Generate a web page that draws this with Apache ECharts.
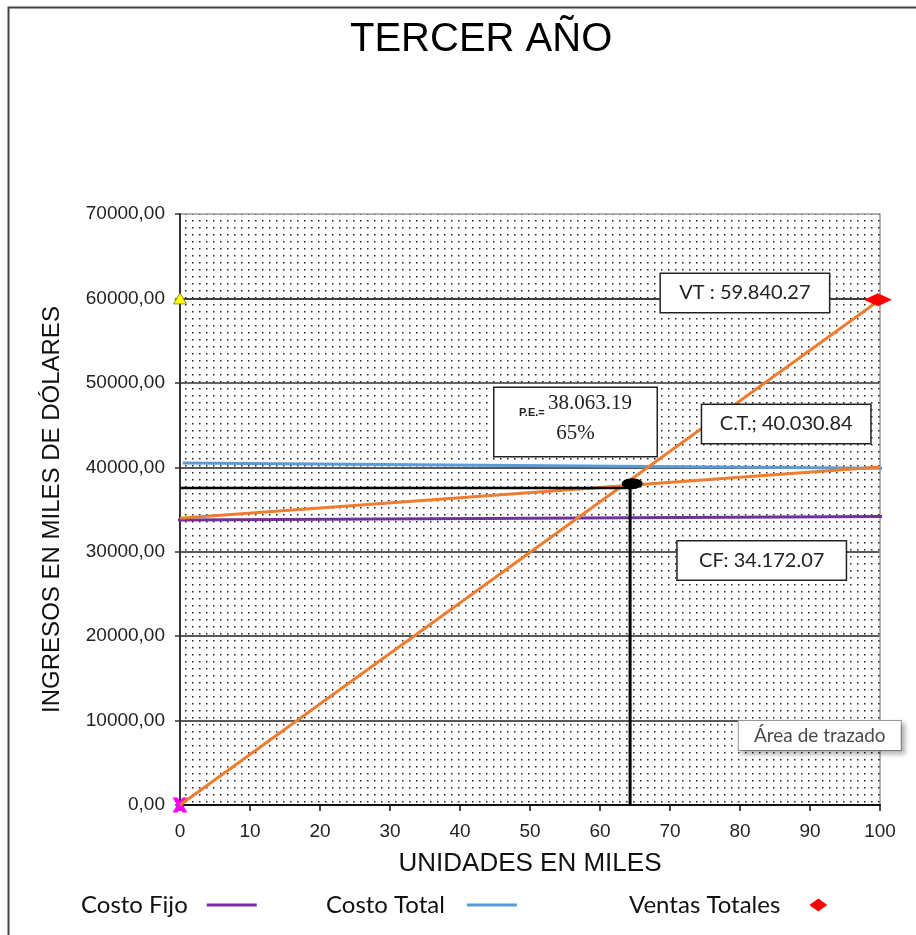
<!DOCTYPE html>
<html>
<head>
<meta charset="utf-8">
<script src="https://cdn.jsdelivr.net/npm/echarts@6/dist/echarts.min.js"></script>
<style>
  html, body { margin: 0; padding: 0; background: #fff; }
  #chart { width: 916px; height: 935px; }
</style>
</head>
<body>
<div id="chart"></div>
<script>
// Break-even chart, third year (values in thousands of dollars / units)
const xTickValues = [0, 10, 20, 30, 40, 50, 60, 70, 80, 90, 100];
const yTickValues = [0, 10000, 20000, 30000, 40000, 50000, 60000, 70000];

const costoFijo = [[-1.4, 33760], [103.2, 34172.07]];
const costoTotal = [[0.4, 40500], [102.3, 39880]];
const costoTotalRecta = [[0, 33950], [100, 40030.84]];
const ventasRecta = [[0, 0], [100, 59840.27]];
const ventasTotales = [[99.7, 59840.27]];
const puntoEquilibrio = [[64.6, 38063.19]];
const guiaHorizontal = [[0, 37550], [64.3, 37550]];
const guiaVertical = [[64.3, 0], [64.3, 38000]];
const marcaCero = [[0, 0]];
const marcaSesenta = [[0, 60000]];

// annotation boxes: [x, y, text]
const etiquetas = [
  [80.7, 60640, 'VT : 59.840.27'],
  [86.6, 45130, 'C.T.; 40.030.84'],
  [83.1, 28960, 'CF: 34.172.07']
];
const etiquetaPE = [56.5, 45360];
const peValor = '38.063.19';
const pePorcentaje = '65%';
const ayudaArea = [91.4, 8230, 'Área de trazado'];

// dotted fill for the plotting area
function dotPattern() {
  const c = document.createElement('canvas');
  c.width = 7; c.height = 7;
  const g = c.getContext('2d');
  g.fillStyle = '#222';
  g.fillRect(3, 3, 1.5, 1.5);
  return c;
}

const SANS = '"Liberation Sans", Arial, sans-serif';
const CAL = 'Lato, "Open Sans", sans-serif';
const SERIF = '"Liberation Serif", "Times New Roman", serif';
const ORANGE = '#ED7D31';

const chart = echarts.init(document.getElementById('chart'), null, { renderer: 'canvas' });

const lineSeries = (name, data, color, width, extra) => Object.assign({
  name, type: 'line', data, symbol: 'none', clip: false,
  lineStyle: { color, width }, itemStyle: { color }, z: 3, silent: true
}, extra || {});

const boxLabel = {
  show: true, position: 'inside', formatter: p => p.name,
  fontFamily: CAL, fontSize: 20, color: '#222',
  backgroundColor: '#fff', borderColor: '#222', borderWidth: 1.5,
  width: 168, height: 38, align: 'center', verticalAlign: 'middle', lineHeight: 38
};

const option = {
  backgroundColor: '#fff',
  animation: false,
  title: {
    text: 'TERCER AÑO', left: 345, top: 15,
    textStyle: { fontFamily: SANS, fontSize: 40, fontWeight: 'normal', color: '#000' }
  },
  graphic: [{
    type: 'rect', left: 6, top: 5, silent: true,
    shape: { width: 940, height: 960 },
    style: { fill: 'none', stroke: '#444', lineWidth: 2 }
  }],
  legend: [
    { data: ['Costo Fijo'], left: 76, top: 888, align: 'right', icon: 'rect', itemWidth: 50, itemHeight: 3,
      textStyle: { fontFamily: CAL, fontSize: 24, color: '#111', padding: [0, 14, 0, 0] }, selectedMode: false },
    { data: ['Costo Total'], left: 321, top: 888, align: 'right', icon: 'rect', itemWidth: 50, itemHeight: 3,
      textStyle: { fontFamily: CAL, fontSize: 24, color: '#111', padding: [0, 17, 0, 0] }, selectedMode: false },
    { data: ['Ventas Totales'], left: 624, top: 888, align: 'right', icon: 'diamond', itemWidth: 18, itemHeight: 13,
      textStyle: { fontFamily: CAL, fontSize: 24, color: '#111', padding: [0, 24, 0, 0] }, selectedMode: false }
  ],
  grid: { left: 180, right: 36, top: 214, bottom: 130, containLabel: false },
  xAxis: {
    type: 'value', min: 0, max: 100, interval: 10,
    name: 'UNIDADES EN MILES', nameLocation: 'middle', nameGap: 46,
    nameTextStyle: { fontFamily: SANS, fontSize: 26, color: '#111' },
    axisLine: { lineStyle: { color: '#111', width: 2 } },
    axisTick: { show: true, inside: false, length: 6, lineStyle: { color: '#111', width: 1.5 } },
    axisLabel: { margin: 17, fontFamily: SANS, fontSize: 19, color: '#222' },
    splitLine: { show: false }
  },
  yAxis: [{
    type: 'value', min: 0, max: 70000, interval: 10000,
    name: 'INGRESOS EN MILES DE DÓLARES', nameLocation: 'middle', nameGap: 116,
    nameTextStyle: { fontFamily: SANS, fontSize: 24, color: '#111' },
    axisLine: { show: true, lineStyle: { color: '#333', width: 2 } },
    axisTick: { show: true, inside: false, length: 5, lineStyle: { color: '#333', width: 1.5 } },
    axisLabel: {
      margin: 15, fontFamily: SANS, fontSize: 19, color: '#222',
      formatter: v => v.toFixed(2).replace('.', ',')
    },
    splitLine: {
      show: true,
      lineStyle: { color: ['#111', '#222', '#222', '#222', '#222', '#333', '#000', '#999'], width: 1.6 }
    }
  }, {
    type: 'value', min: 0, max: 70000, interval: 10000, position: 'right',
    axisLine: { show: true, lineStyle: { color: '#9a9a9a', width: 1.5 } },
    axisTick: { show: false }, axisLabel: { show: false }, splitLine: { show: false }
  }],
  series: [
    {
      name: 'fondo', type: 'line', data: [], silent: true, z: 1,
      markArea: {
        silent: true,
        itemStyle: { color: { image: dotPattern(), repeat: 'repeat' } },
        data: [[{ coord: [0, 0] }, { coord: [100, 70000] }]]
      }
    },
    lineSeries('Costo Fijo', costoFijo, '#7030A0', 3),
    lineSeries('Costo Total', costoTotal, '#5B9BD5', 3),
    lineSeries('Recta Costo Total', costoTotalRecta, ORANGE, 3),
    lineSeries('Recta Ventas', ventasRecta, ORANGE, 3),
    lineSeries('Guía PE horizontal', guiaHorizontal, '#000', 2.5, { z: 4 }),
    lineSeries('Guía PE vertical', guiaVertical, '#000', 3, { z: 4 }),
    {
      name: 'Punto de equilibrio', type: 'scatter', data: puntoEquilibrio, z: 5, silent: true,
      symbol: 'circle', symbolSize: [21, 11], itemStyle: { color: '#000', opacity: 1 }
    },
    {
      name: 'Ventas Totales', type: 'scatter', data: ventasTotales, z: 5, silent: true, clip: false,
      symbol: 'diamond', symbolSize: [28, 13], itemStyle: { color: '#FF0000', opacity: 1 }
    },
    {
      name: 'Marca 60000', type: 'scatter', data: marcaSesenta, z: 5, silent: true, clip: false,
      symbol: 'triangle', symbolSize: [13, 11],
      itemStyle: { color: '#FFFF00', borderColor: '#7a7a00', borderWidth: 0.8, opacity: 1 }
    },
    {
      name: 'Marca cero', type: 'scatter', data: marcaCero, z: 2, silent: true, clip: false,
      symbol: 'path://M0,0 L3.5,0 5,2.5 6.5,0 10,0 7,5 10,10 6.5,10 5,7.5 3.5,10 0,10 3,5Z', symbolSize: 15,
      itemStyle: { color: '#FF00FF', opacity: 1 }
    },
    {
      name: 'Etiquetas', type: 'scatter', symbolSize: 0, z: 6, silent: true, clip: false,
      itemStyle: { opacity: 1 },
      data: etiquetas.map(e => ({ value: [e[0], e[1]], name: e[2] })),
      label: boxLabel
    },
    {
      name: 'Etiqueta PE', type: 'scatter', symbolSize: 0, z: 6, silent: true, clip: false,
      itemStyle: { opacity: 1 },
      data: [{ value: etiquetaPE }],
      label: {
        show: true, position: 'inside',
        formatter: () => '{s|P.E.=} {b|' + peValor + '}\n{b|' + pePorcentaje + '}',
        backgroundColor: '#fff', borderColor: '#222', borderWidth: 1.5,
        width: 162, height: 68, align: 'center', verticalAlign: 'middle',
        rich: {
          s: { fontFamily: SANS, fontSize: 11, color: '#222', verticalAlign: 'bottom', lineHeight: 30, fontWeight: 'bold' },
          b: { fontFamily: SERIF, fontSize: 21, color: '#222', lineHeight: 30 }
        }
      }
    },
    {
      name: 'Ayuda', type: 'scatter', symbolSize: 0, z: 7, silent: true, clip: false,
      itemStyle: { opacity: 1 },
      data: [{ value: [ayudaArea[0], ayudaArea[1]], name: ayudaArea[2] }],
      label: {
        show: true, position: 'inside', formatter: p => p.name,
        fontFamily: CAL, fontSize: 19, color: '#4a4a4a',
        backgroundColor: '#fff', borderColor: '#9a9a9a', borderWidth: 1,
        padding: [5, 8, 5, 8], width: 146, align: 'center', verticalAlign: 'middle',
        shadowColor: 'rgba(0,0,0,0.3)', shadowBlur: 5, shadowOffsetX: 3, shadowOffsetY: 3
      }
    }
  ]
};

chart.setOption(option);
</script>
</body>
</html>
